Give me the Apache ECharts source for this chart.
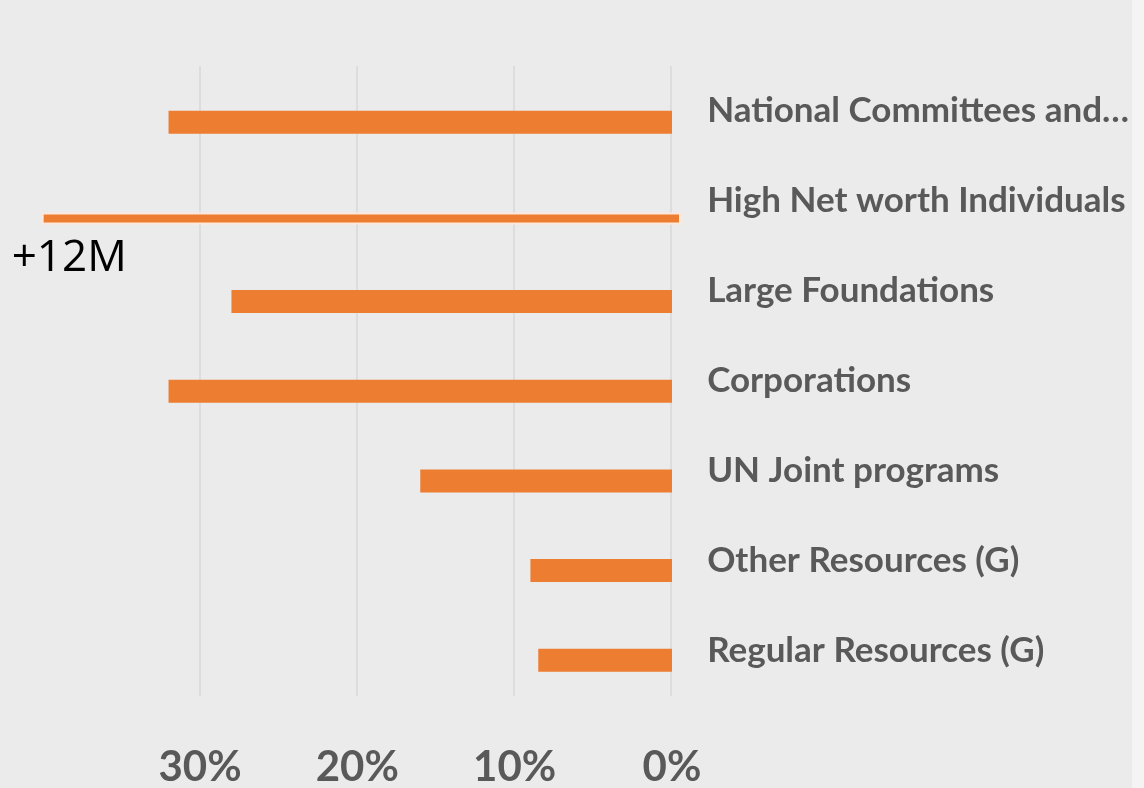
<!DOCTYPE html>
<html>
<head>
<meta charset="utf-8">
<title>Funding growth by source</title>
<script src="https://cdn.jsdelivr.net/npm/echarts@6/dist/echarts.min.js"></script>
<style>
  html, body { margin: 0; padding: 0; background: #f4f4f4; }
  #chart { width: 1132px; height: 788px; background: #ebebeb; }
</style>
</head>
<body>
<div id="chart"></div>
<script>
// Funding sources, listed bottom to top as the category axis draws them
const categories = [
  'Regular Resources (G)',
  'Other Resources (G)',
  'UN Joint programs',
  'Corporations',
  'Large Foundations',
  'High Net worth Individuals',
  'National Committees and…'
];
// Growth (%) per source; HNWI is shown as a capped callout bar instead
const growth = [8.5, 9, 16, 32, 28, null, 32];
const hnwiCategory = 'High Net worth Individuals';
const hnwiGrowth = 40;
const hnwiLabel = '+12M';

const ORANGE = '#ED7D31';
const TEXT = '#595959';
const FONT = 'Lato, "Open Sans", sans-serif';

const chart = echarts.init(document.getElementById('chart'), null, { renderer: 'canvas' });

const gridLeft = 200, gridRight = 1132 - 672;

chart.setOption({
  backgroundColor: '#ebebeb',
  animation: false,
  grid: [
    // bars
    { left: gridLeft, right: gridRight, top: 77.5, height: 630, containLabel: false },
    // gridlines and category labels
    { left: gridLeft, right: gridRight, top: 66, height: 630, containLabel: false }
  ],
  xAxis: [
    {
      type: 'value', gridIndex: 0, inverse: true, min: 0, max: 30, interval: 10,
      axisLine: { show: false }, axisTick: { show: false }, splitLine: { show: false },
      axisLabel: {
        formatter: v => v + '%', margin: 41,
        color: TEXT, fontFamily: FONT, fontWeight: 'bold', fontSize: 42
      }
    },
    {
      type: 'value', gridIndex: 1, inverse: true, min: 0, max: 30, interval: 10,
      axisLine: { show: false }, axisTick: { show: false }, axisLabel: { show: false },
      splitLine: { show: true, lineStyle: { color: '#d9d9d9', width: 1.5 } }
    }
  ],
  yAxis: [
    { type: 'category', gridIndex: 0, data: categories, show: false },
    {
      type: 'category', gridIndex: 1, data: categories, position: 'right',
      axisLine: { show: false }, axisTick: { show: false },
      axisLabel: {
        align: 'left', margin: 36,
        color: TEXT, fontFamily: FONT, fontWeight: 'bold', fontSize: 35
      }
    }
  ],
  series: [
    {
      type: 'bar', xAxisIndex: 0, yAxisIndex: 0,
      data: growth, barWidth: 23, clip: false,
      itemStyle: { color: ORANGE }
    },
    {
      // Callout bar for HNWI: thinner, outlined, with its amount written below-left
      type: 'custom', xAxisIndex: 0, yAxisIndex: 0, clip: false,
      data: [[hnwiGrowth, hnwiCategory]],
      encode: { x: 0, y: 1 },
      renderItem: (params, api) => {
        const left = api.coord([api.value(0), api.value(1)]);
        const right = api.coord([0, api.value(1)]);
        const cy = left[1] + 6.5;
        const h = 10;
        return {
          type: 'group',
          children: [
            {
              type: 'rect',
              shape: { x: left[0], y: cy - h / 2, width: right[0] - left[0] + 8, height: h },
              style: { fill: ORANGE, stroke: '#fde9dc', lineWidth: 2 }
            },
            {
              type: 'text',
              style: {
                x: left[0] - 31, y: cy + 40, text: hnwiLabel,
                fill: '#000', font: '44px "Open Sans", sans-serif',
                textVerticalAlign: 'middle'
              }
            }
          ]
        };
      }
    }
  ]
});
</script>
</body>
</html>
